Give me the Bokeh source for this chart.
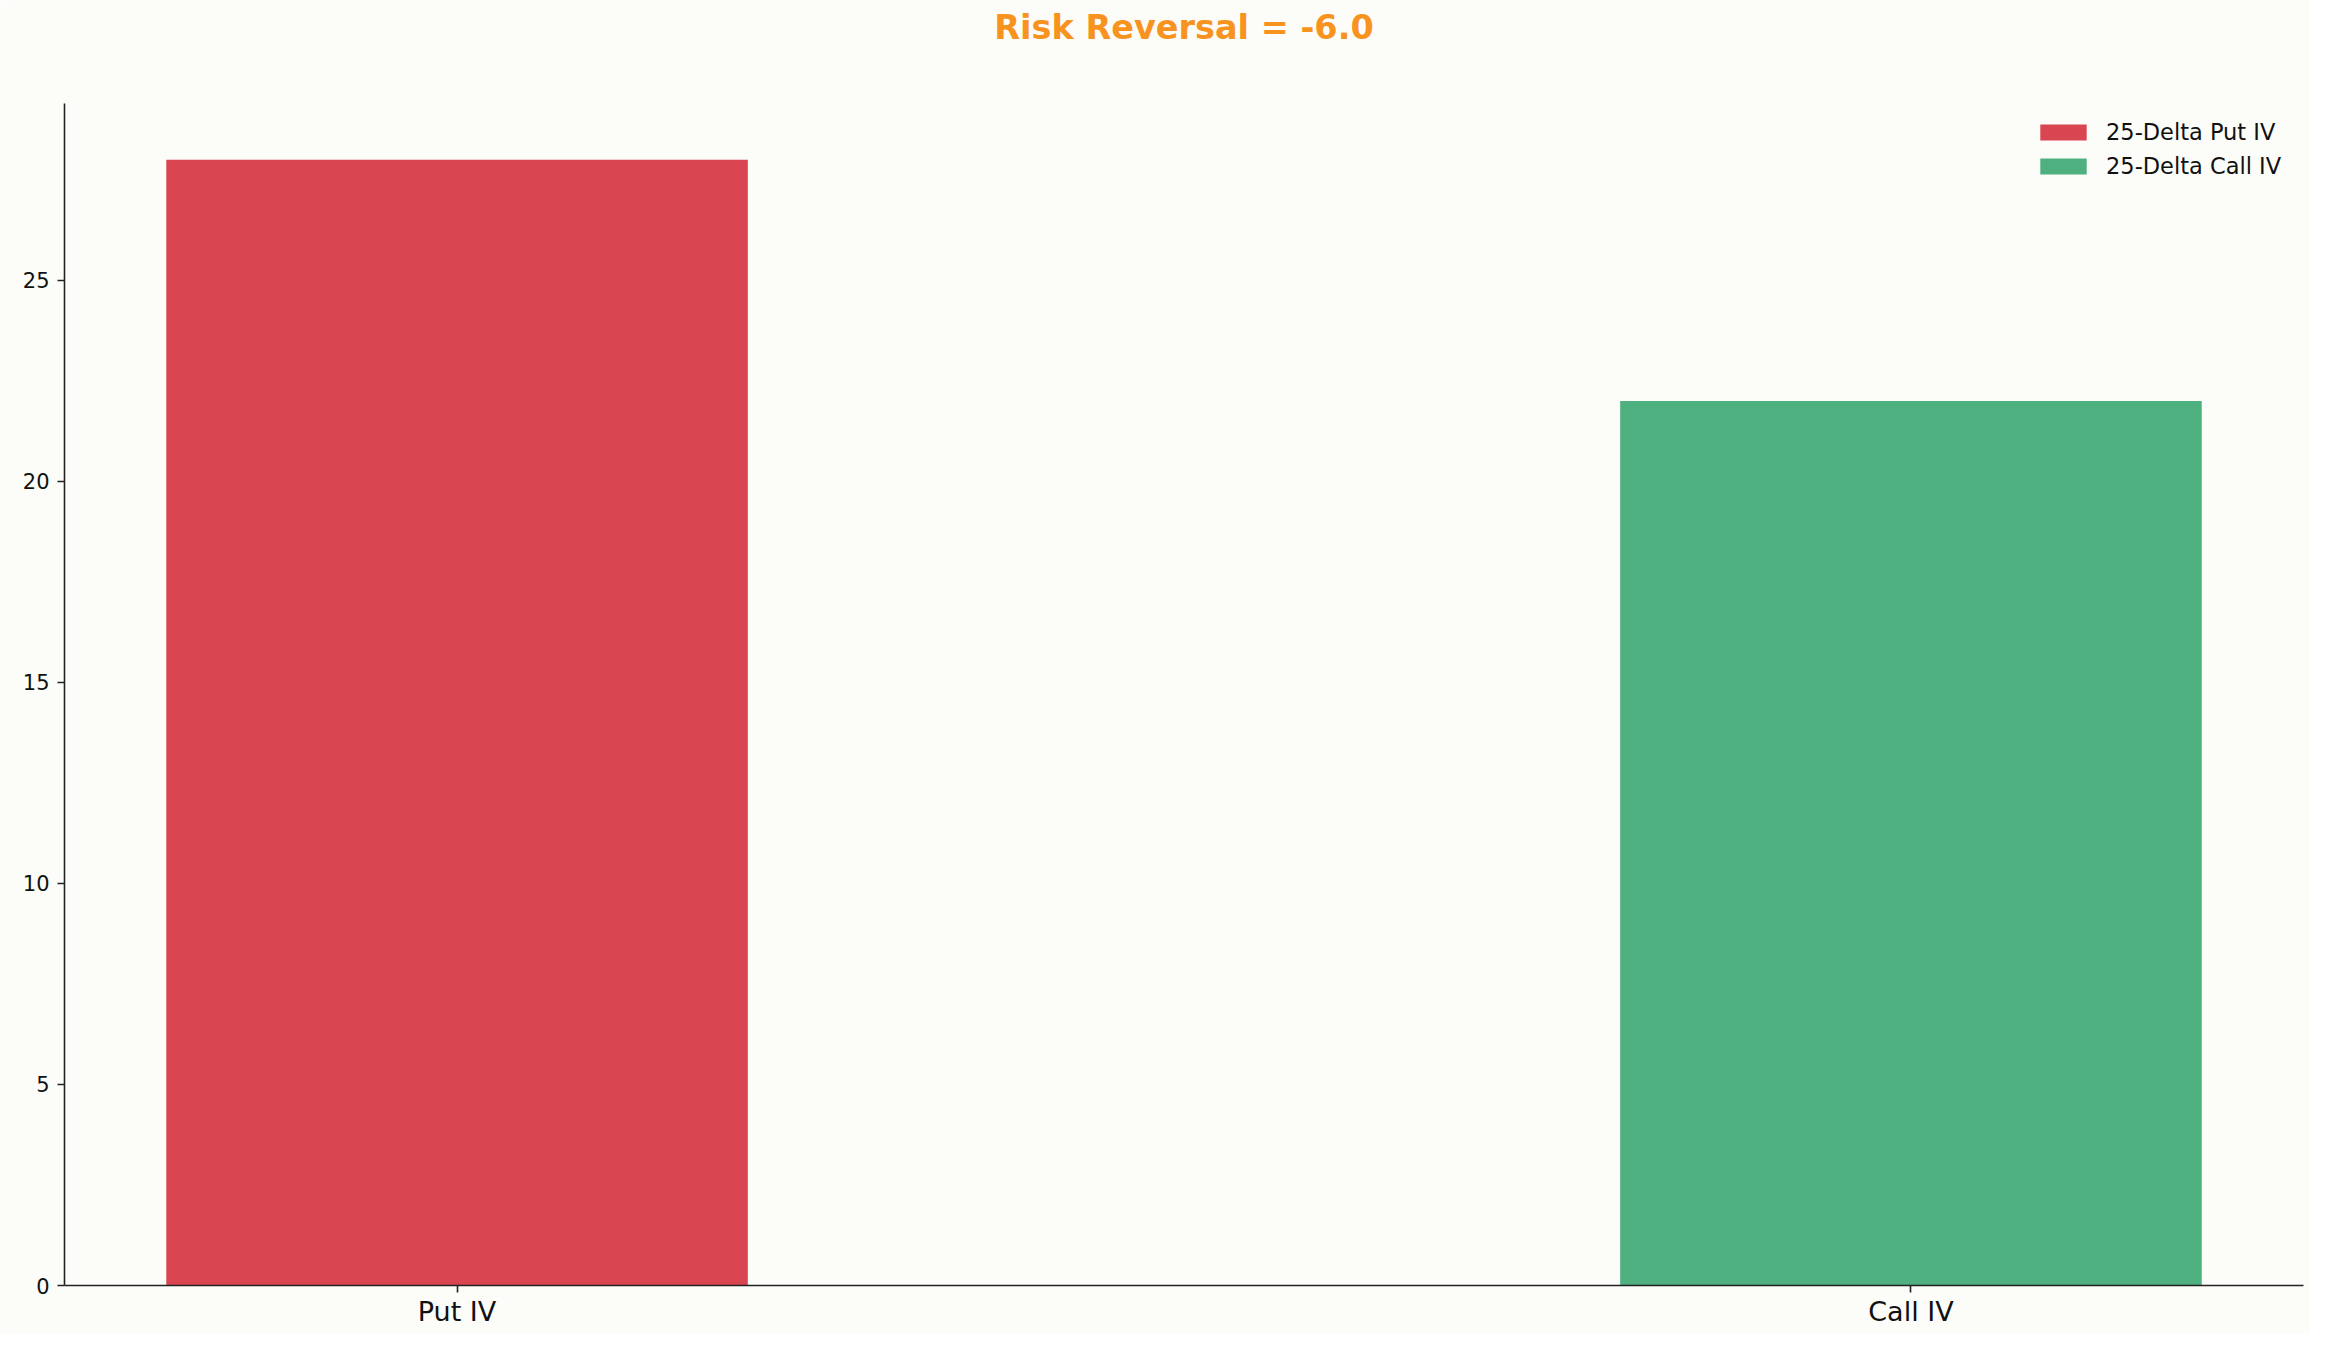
from bokeh.plotting import figure
from bokeh.models import Legend, LegendItem, FixedTicker, Range1d, Title
from bokeh.embed import file_html
from bokeh.resources import INLINE

# Data
categories = ["Put IV", "Call IV"]
iv_values = [28.0, 22.0]
legend_labels = ["25-Delta Put IV", "25-Delta Call IV"]
bar_colors = ["#D94651", "#4EAF7F"]
y_ticks = [0, 5, 10, 15, 20, 25]

risk_reversal = iv_values[1] - iv_values[0]

BG = "#FCFDF8"
FONT = "DejaVu Sans"

xs = list(range(len(categories)))
bar_w = 0.4
x_lo = xs[0] - bar_w / 2
x_hi = xs[-1] + bar_w / 2
pad = 0.05 * (x_hi - x_lo)
y_top = max(iv_values) * 1.05

p = figure(width=2309, height=1334, output_backend="svg", toolbar_location=None,
           x_range=Range1d(x_lo - pad, x_hi + pad), y_range=Range1d(0, y_top),
           min_border_left=64, min_border_right=6, min_border_top=103, min_border_bottom=49)
p.background_fill_color = BG
p.border_fill_color = BG
p.outline_line_color = None
p.xgrid.grid_line_color = None
p.ygrid.grid_line_color = None

items = []
for i, (cat, val, lab, col) in enumerate(zip(categories, iv_values, legend_labels, bar_colors)):
    r = p.vbar(x=[xs[i]], top=[val], width=bar_w, bottom=0, fill_color=col, line_color=None)
    items.append(LegendItem(label=lab, renderers=[r]))

legend = Legend(items=items, location="top_right", border_line_color=None,
                background_fill_alpha=0, padding=0, margin=14,
                glyph_width=58, glyph_height=20, label_standoff=14,
                label_height=30, label_width=183, spacing=4,
                label_text_font=FONT, label_text_font_size="22.5px", label_text_color="#111111")
p.add_layout(legend)

for ax in (p.xaxis[0], p.yaxis[0]):
    ax.axis_line_color = "#222222"
    ax.axis_line_width = 1.6
    ax.major_tick_line_color = "#222222"
    ax.major_tick_line_width = 1.6
    ax.major_tick_out = 7
    ax.major_tick_in = 0
    ax.minor_tick_line_color = None
    ax.major_label_text_font = FONT
    ax.major_label_text_color = "#111111"

p.xaxis.ticker = FixedTicker(ticks=xs)
p.xaxis.major_label_overrides = {x: c for x, c in zip(xs, categories)}
p.xaxis.major_label_text_font_size = "27px"
p.xaxis.major_label_standoff = 3
p.yaxis.ticker = FixedTicker(ticks=y_ticks)
p.yaxis.major_label_text_font_size = "21px"
p.yaxis.major_label_standoff = 8

# invisible spacer between frame and title
spacer = Title(text=" ", text_font_size="10px", text_color=BG, standoff=42)
p.add_layout(spacer, "above")

title = Title(text=f"Risk Reversal = {risk_reversal:.1f}", align="center",
              vertical_align="top",
              text_font=FONT, text_font_size="33.5px", text_font_style="bold",
              text_color="#F7931E", standoff=0)
p.add_layout(title, "above")

open("out.html", "w").write(file_html(p, INLINE))
